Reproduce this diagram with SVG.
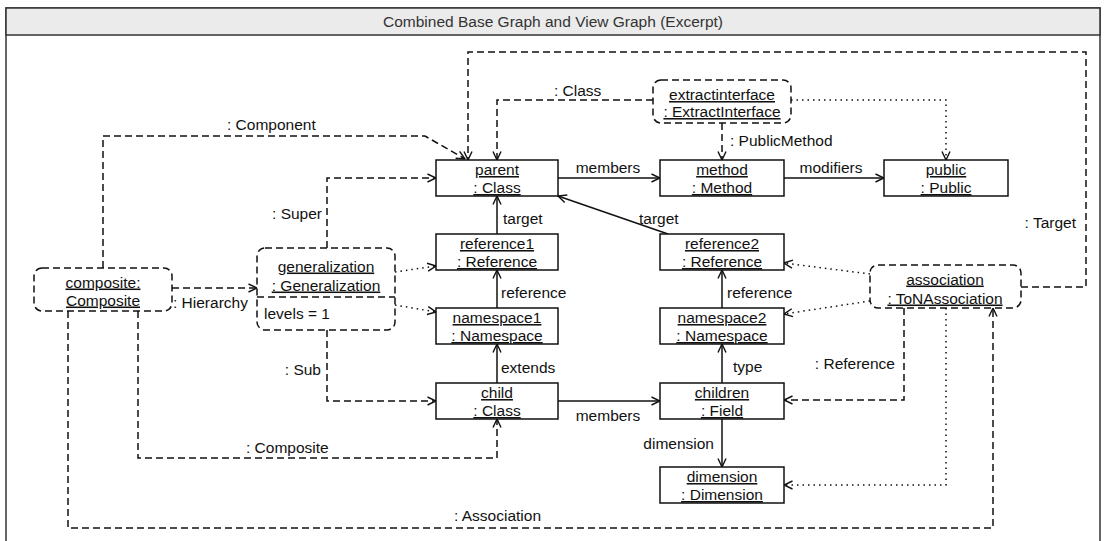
<svg xmlns="http://www.w3.org/2000/svg" width="1105" height="541" viewBox="0 0 1105 541">
  <style>
    text { font-family: "Liberation Sans", Arial, sans-serif; font-size: 15.5px; fill: #111; }
    .title { fill: #333; text-anchor: middle; }
    .c { text-anchor: middle; }
    .e { text-anchor: end; }
    .u { text-decoration: underline; }
    .box { fill: #fff; stroke: #111; stroke-width: 1.5; }
    .view { fill: #fff; stroke: #111; stroke-width: 1.5; stroke-dasharray: 7 4; }
    .solid { fill: none; stroke: #111; stroke-width: 1.5; marker-end: url(#arr); }
    .dash { fill: none; stroke: #111; stroke-width: 1.5; stroke-dasharray: 7 4; marker-end: url(#arr); }
    .dot { fill: none; stroke: #111; stroke-width: 1.5; stroke-dasharray: 1.5 4; marker-end: url(#arr); }
  </style>
  <defs>
    <marker id="arr" viewBox="0 0 10 10" refX="9.5" refY="5" markerWidth="10" markerHeight="10" markerUnits="userSpaceOnUse" orient="auto">
      <path d="M1,1 L9.5,5 L1,9" fill="none" stroke="#111" stroke-width="1.4"/>
    </marker>
  </defs>

  <!-- frame and title bar -->
  <g id="frame">
    <rect x="6" y="8" width="1094" height="560" fill="#fff" stroke="#333" stroke-width="1.5"/>
    <rect x="6" y="8" width="1094" height="27" fill="#ebebeb" stroke="#333" stroke-width="1.5"/>
    <text class="title" x="553" y="27">Combined Base Graph and View Graph (Excerpt)</text>
  </g>

  <!-- connectors -->
  <g id="connectors">
    <!-- base graph edges -->
    <path class="solid" d="M558,178 L660,178"/>
    <path class="solid" d="M784,178 L884,178"/>
    <path class="solid" d="M497,234 L497,196"/>
    <path class="solid" d="M668,234 L558,196"/>
    <path class="solid" d="M497,308 L497,270"/>
    <path class="solid" d="M722,308 L722,270"/>
    <path class="solid" d="M497,383 L497,344"/>
    <path class="solid" d="M722,383 L722,344"/>
    <path class="solid" d="M558,401 L660,401"/>
    <path class="solid" d="M722,419 L722,467"/>

    <!-- view edges -->
    <path class="dash" d="M103,268 L103,136 L425,136 L465,159"/>
    <path class="dash" d="M653,100 L497,100 L497,160"/>
    <path class="dash" d="M1021,287 L1086,287 L1086,52 L468,52 L468,160"/>
    <path class="dash" d="M722,123 L722,160"/>
    <path class="dash" d="M172,288 L257,288"/>
    <path class="dash" d="M327,248 L327,178 L436,178"/>
    <path class="dash" d="M327,330 L327,401 L436,401"/>
    <path class="dash" d="M138,311 L138,458 L497,458 L497,419"/>
    <path class="dash" d="M68,311 L68,528 L993,528 L993,308"/>
    <path class="dash" d="M904,308 L904,400 L784,400"/>

    <!-- view-to-base mappings -->
    <path class="dot" d="M791,100 L946,100 L946,160"/>
    <path class="dot" d="M395,272 L436,266"/>
    <path class="dot" d="M395,305 L436,312"/>
    <path class="dot" d="M870,274 L784,263"/>
    <path class="dot" d="M870,301 L784,314"/>
    <path class="dot" d="M946,308 L946,485 L784,485"/>

    <!-- edge labels -->
    <text x="227" y="129.5">: Component</text>
    <text x="554" y="95.5">: Class</text>
    <text x="730" y="145.5">: PublicMethod</text>
    <text class="c" x="608" y="172.5">members</text>
    <text class="c" x="831" y="172.5">modifiers</text>
    <text x="503" y="223.5">target</text>
    <text x="639" y="223.5">target</text>
    <text class="e" x="1076" y="227.5">: Target</text>
    <text class="e" x="322" y="218.5">: Super</text>
    <text x="173" y="307.5">: Hierarchy</text>
    <text x="501" y="297.5">reference</text>
    <text x="727" y="297.5">reference</text>
    <text class="e" x="895" y="368.5">: Reference</text>
    <text class="e" x="321" y="374.5">: Sub</text>
    <text x="501" y="373">extends</text>
    <text x="733" y="371.5">type</text>
    <text class="c" x="608" y="420.5">members</text>
    <text class="e" x="714" y="448.5">dimension</text>
    <text x="246" y="452.5">: Composite</text>
    <text x="454" y="520.5">: Association</text>
  </g>

  <!-- base graph nodes -->
  <g id="parent">
    <rect class="box" x="436" y="160" width="122" height="36"/>
    <text class="c u" x="497" y="175">parent</text>
    <text class="c u" x="497" y="193">: Class</text>
  </g>
  <g id="method">
    <rect class="box" x="660" y="160" width="124" height="36"/>
    <text class="c u" x="722" y="175">method</text>
    <text class="c u" x="722" y="193">: Method</text>
  </g>
  <g id="public">
    <rect class="box" x="884" y="160" width="124" height="36"/>
    <text class="c u" x="946" y="175">public</text>
    <text class="c u" x="946" y="193">: Public</text>
  </g>
  <g id="reference1">
    <rect class="box" x="436" y="234" width="122" height="36"/>
    <text class="c u" x="497" y="249">reference1</text>
    <text class="c u" x="497" y="267">: Reference</text>
  </g>
  <g id="reference2">
    <rect class="box" x="660" y="234" width="124" height="36"/>
    <text class="c u" x="722" y="249">reference2</text>
    <text class="c u" x="722" y="267">: Reference</text>
  </g>
  <g id="namespace1">
    <rect class="box" x="436" y="308" width="122" height="36"/>
    <text class="c u" x="497" y="323">namespace1</text>
    <text class="c u" x="497" y="341">: Namespace</text>
  </g>
  <g id="namespace2">
    <rect class="box" x="660" y="308" width="124" height="36"/>
    <text class="c u" x="722" y="323">namespace2</text>
    <text class="c u" x="722" y="341">: Namespace</text>
  </g>
  <g id="child">
    <rect class="box" x="436" y="383" width="122" height="36"/>
    <text class="c u" x="497" y="398">child</text>
    <text class="c u" x="497" y="416">: Class</text>
  </g>
  <g id="children">
    <rect class="box" x="660" y="383" width="124" height="36"/>
    <text class="c u" x="722" y="398">children</text>
    <text class="c u" x="722" y="416">: Field</text>
  </g>
  <g id="dimension">
    <rect class="box" x="660" y="467" width="124" height="36"/>
    <text class="c u" x="722" y="482">dimension</text>
    <text class="c u" x="722" y="500">: Dimension</text>
  </g>

  <!-- view nodes -->
  <g id="extractinterface">
    <rect class="view" x="653" y="80" width="138" height="43" rx="8"/>
    <text class="c u" x="722" y="100">extractinterface</text>
    <text class="c u" x="722" y="117">: ExtractInterface</text>
  </g>
  <g id="composite">
    <rect class="view" x="34" y="268" width="138" height="43" rx="8"/>
    <text class="c u" x="103" y="287.5">composite:</text>
    <text class="c u" x="103" y="305.5">Composite</text>
  </g>
  <g id="generalization">
    <rect class="view" x="257" y="248" width="138" height="82" rx="8"/>
    <path d="M257,297 L395,297" fill="none" stroke="#111" stroke-width="1.5" stroke-dasharray="7 4"/>
    <text class="c u" x="326" y="271.5">generalization</text>
    <text class="c u" x="326" y="290.5">: Generalization</text>
    <text x="264" y="318.5">levels = 1</text>
  </g>
  <g id="association">
    <rect class="view" x="870" y="265" width="151" height="43" rx="8"/>
    <text class="c u" x="945" y="284.5">association</text>
    <text class="c u" x="945" y="303.5">: ToNAssociation</text>
  </g>
</svg>
